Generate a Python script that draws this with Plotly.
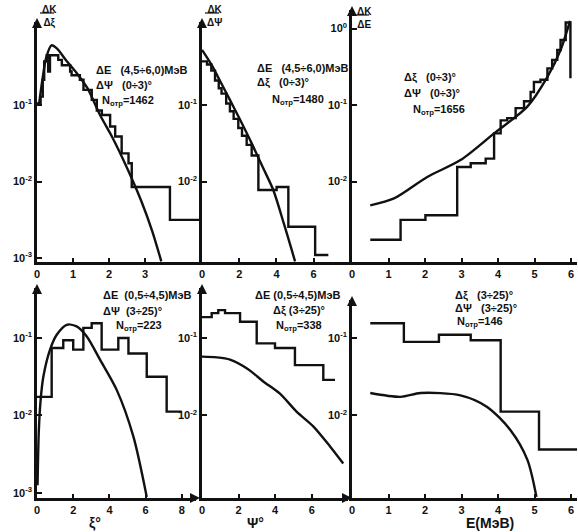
import plotly.graph_objects as go

# ---------------- DATA ----------------
# Panel 1: dK/dxi, dE (4.5-6.0) MeV, dPsi (0-3) deg
xi_edges_a = [0, 0.1, 0.16, 0.2, 0.27, 0.31, 0.36, 0.59, 0.69, 0.92, 0.96, 1.19, 1.29,
              1.52, 1.66, 1.80, 2.03, 2.17, 2.35, 2.54, 2.63, 3.69, 4.53]
xi_hist_a = [0.105, 0.129, 0.214, 0.372, 0.447, 0.275, 0.447, 0.389, 0.331, 0.275, 0.245,
             0.214, 0.158, 0.117, 0.0851, 0.0741, 0.0525, 0.0389, 0.0234, 0.0174, 0.00851, 0.00316]
xi_curve_x_a = [0.06, 0.15, 0.25, 0.40, 0.55, 0.8, 1.1, 1.4, 1.75, 2.1, 2.5, 2.9, 3.2, 3.45]
xi_curve_y_a = [0.105, 0.214, 0.407, 0.603, 0.550, 0.389, 0.263, 0.166, 0.0741, 0.0372,
                0.0151, 0.0055, 0.00224, 0.00091]

# Panel 2: dK/dPsi, dE (4.5-6.0) MeV, dxi (0-3) deg
psi_edges_a = [0, 0.27, 0.5, 0.7, 0.9, 1.05, 1.3, 1.5, 1.7, 1.95, 2.15, 2.4, 2.67, 3.03,
               4.01, 4.64, 6.08, 6.79]
psi_hist_a = [0.372, 0.339, 0.282, 0.209, 0.166, 0.141, 0.105, 0.0832, 0.0661, 0.0501,
              0.0398, 0.0302, 0.0219, 0.00776, 0.00851, 0.00257, 0.00110]
psi_curve_x_a = [0, 0.5, 1.0, 1.5, 2.0, 2.67, 3.3, 3.83, 4.4, 5.0]
psi_curve_y_a = [0.525, 0.339, 0.200, 0.117, 0.0676, 0.0316, 0.0148, 0.00776, 0.00282, 0.00091]

# Panel 3: dK/dE, dxi (0-3), dPsi (0-3) deg
e_edges_a = [0.5, 1.33, 2.01, 2.88, 3.25, 3.66, 3.89, 4.07, 4.25, 4.48, 4.71, 4.89, 4.98,
             5.16, 5.35, 5.48, 5.62, 5.71, 5.85, 5.98]
e_hist_a = [0.00174, 0.00316, 0.00363, 0.0155, 0.0174, 0.0200, 0.0427, 0.0631, 0.0676,
            0.0912, 0.112, 0.148, 0.200, 0.214, 0.302, 0.389, 0.525, 0.708, 1.20]
e_tail_a = 0.224
e_curve_x_a = [0.5, 1.15, 2.06, 2.97, 3.89, 4.8, 5.35, 5.71, 5.97]
e_curve_y_a = [0.0049, 0.00603, 0.0115, 0.0191, 0.0427, 0.0955, 0.234, 0.525, 1.26]

# Panel 4: dE (0.5-4.5) MeV, dPsi (3-25) deg
xi_edges_b = [0, 0.81, 1.45, 2.0, 2.56, 3.02, 3.57, 4.49, 5.05, 6.06, 7.16, 7.99]
xi_hist_b = [0.0174, 0.0741, 0.0933, 0.0708, 0.135, 0.155, 0.0708, 0.100, 0.0631, 0.0316, 0.0112]
xi_curve_x_b = [0.03, 0.1, 0.2, 0.35, 0.72, 1.09, 1.64, 2.19, 2.74, 3.48, 4.40, 5.32, 6.06]
xi_curve_y_b = [0.00126, 0.00631, 0.0158, 0.0316, 0.0708, 0.110, 0.148, 0.141, 0.105,
                0.0525, 0.0214, 0.00537, 0.00089]

# Panel 5: dE (0.5-4.5) MeV, dxi (3-25) deg
psi_edges_b = [0, 0.53, 0.89, 1.26, 2.08, 2.99, 3.99, 5.08, 6.63, 7.27]
psi_hist_b = [0.186, 0.209, 0.229, 0.209, 0.162, 0.0851, 0.0741, 0.0447, 0.0288]
psi_curve_x_b = [0, 0.8, 1.53, 2.5, 3.35, 4.26, 5.17, 6.08, 7.0, 7.72]
psi_curve_y_b = [0.0575, 0.0562, 0.0525, 0.0398, 0.0275, 0.0191, 0.0112, 0.00724, 0.00398, 0.0024]

# Panel 6: dxi (3-25), dPsi (3-25) deg
e_edges_b = [0.5, 1.42, 2.38, 3.25, 4.07, 5.12, 6.17]
e_hist_b = [0.155, 0.0891, 0.110, 0.0933, 0.0112, 0.00363]
e_curve_x_b = [0.5, 1.33, 1.88, 2.97, 3.70, 4.34, 4.80, 5.05]
e_curve_y_b = [0.0195, 0.0174, 0.0195, 0.0182, 0.0129, 0.00646, 0.00269, 0.00089]

labels = [
    ["ΔE   (4,5÷6,0)МэВ", "ΔΨ   (0÷3)°", "N<sub>отр</sub>=1462"],
    ["ΔE   (4,5÷6,0)МэВ", "Δξ   (0÷3)°", "N<sub>отр</sub>=1480"],
    ["Δξ   (0÷3)°", "ΔΨ   (0÷3)°", "N<sub>отр</sub>=1656"],
    ["ΔE  (0,5÷4,5)МэВ", "ΔΨ  (3÷25)°", "N<sub>отр</sub>=223"],
    ["ΔE (0,5÷4,5)МэВ", "Δξ (3÷25)°", "N<sub>отр</sub>=338"],
    ["Δξ   (3÷25)°", "ΔΨ   (3÷25)°", "N<sub>отр</sub>=146"],
]

# ---------------- FIGURE ----------------
W, H = 578, 532
def px(X): return X / W
def py(Y): return 1 - Y / H

fig = go.Figure()
BLACK = "#111111"

def add_panel(i, edges, hist, cx, cy, tail=None):
    xa = "x" if i == 1 else f"x{i}"
    ya = "y" if i == 1 else f"y{i}"
    hx = list(edges)
    hy = list(hist) + [hist[-1]]
    if tail is not None:
        hx = hx + [edges[-1]]
        hy = hy + [tail]
    fig.add_trace(go.Scatter(x=hx, y=hy, mode="lines", line=dict(shape="hv", color=BLACK, width=2.4),
                             xaxis=xa, yaxis=ya, showlegend=False, hoverinfo="skip"))
    fig.add_trace(go.Scatter(x=cx, y=cy, mode="lines", line=dict(shape="spline", smoothing=0.8, color=BLACK, width=2.4),
                             xaxis=xa, yaxis=ya, showlegend=False, hoverinfo="skip"))

add_panel(1, xi_edges_a, xi_hist_a, xi_curve_x_a, xi_curve_y_a)
add_panel(2, psi_edges_a, psi_hist_a, psi_curve_x_a, psi_curve_y_a)
add_panel(3, e_edges_a, e_hist_a, e_curve_x_a, e_curve_y_a, tail=e_tail_a)
add_panel(4, xi_edges_b, xi_hist_b, xi_curve_x_b, xi_curve_y_b)
add_panel(5, psi_edges_b, psi_hist_b, psi_curve_x_b, psi_curve_y_b)
add_panel(6, e_edges_b, e_hist_b, e_curve_x_b, e_curve_y_b)

tfont = dict(family="Liberation Sans", size=11, color=BLACK, weight="bold")

def xax(dom, rng, tv, anchor):
    return dict(domain=dom, range=rng, anchor=anchor, showline=True, linecolor=BLACK, linewidth=2.5,
                ticks="inside", ticklen=4, tickwidth=1.5, tickcolor=BLACK, tickvals=tv,
                ticktext=[str(v) for v in tv], tickfont=tfont, showgrid=False, zeroline=False,
                automargin=False)

def yax(dom, rng, tv, anchor):
    txt = ["10<sup>0</sup>" if v == 1 else f"10<sup>-{len(str(v).split('.')[1])}</sup>" for v in tv]
    return dict(type="log", domain=dom, range=rng, anchor=anchor, showline=True, linecolor=BLACK,
                linewidth=2.5, ticks="inside", ticklen=5, tickwidth=1.5, tickcolor=BLACK,
                tickvals=tv, ticktext=txt, tickfont=tfont, showgrid=False, zeroline=False,
                automargin=False)

ytop = [py(262), py(22)]
ybot = [py(498), py(288)]
fig.update_layout(
    template="none",
    width=W, height=H, margin=dict(l=0, r=0, t=0, b=0, pad=0), autosize=False,
    paper_bgcolor="white", plot_bgcolor="rgba(0,0,0,0)",
    xaxis=xax([px(37), px(202)], [0, 4.58], [0, 1, 2, 3], "y"),
    yaxis=yax(ytop, [-3.05, 0.085], [0.1, 0.01, 0.001], "x"),
    xaxis2=xax([px(202), px(352)], [0, 8.06], [0, 2, 4, 6], "y2"),
    yaxis2=yax(ytop, [-3.05, 0.085], [0.1, 0.01], "x2"),
    xaxis3=xax([px(352), px(577)], [0, 6.16], [0, 1, 2, 3, 4, 5, 6], "y3"),
    yaxis3=yax([py(262), py(10)], [-3.05, 0.242], [1, 0.1, 0.01], "x3"),
    xaxis4=xax([px(37), px(196)], [0, 8.78], [0, 2, 4, 6, 8], "y4"),
    yaxis4=yax(ybot, [-3.065, -0.355], [0.1, 0.01, 0.001], "x4"),
    xaxis5=xax([px(202), px(348)], [0, 7.98], [0, 2, 4, 6], "y5"),
    yaxis5=yax(ybot, [-3.065, -0.355], [0.1, 0.01], "x5"),
    xaxis6=xax([px(352), px(577)], [0, 6.16], [0, 1, 2, 3, 4, 5, 6], "y6"),
    yaxis6=yax([py(498), py(300)], [-3.065, -0.51], [0.1, 0.01], "x6"),
)

ann = []
afont = dict(family="Liberation Sans", size=11, color=BLACK, weight="bold")
text_pos = [
    [(94, 70), (94, 85), (100, 101)],
    [(255, 68), (255, 83), (270, 100)],
    [(402, 77), (402, 93), (411, 110)],
    [(101, 295), (101, 311), (114, 326)],
    [(253, 295), (271, 310), (274, 326)],
    [(453, 295), (453, 308), (455, 322)],
]
for lab, pos in zip(labels, text_pos):
    for t, (X, Y) in zip(lab, pos):
        ann.append(dict(x=px(X), y=py(Y), xref="paper", yref="paper", text=t, showarrow=False,
                        xanchor="left", yanchor="middle", font=afont))

# y-axis titles (fractions) at top of upper panels
for X, sym in [(40, "Δξ"), (205, "ΔΨ"), (355, "ΔE")]:
    Ytop = 4 if X == 355 else 2
    ann.append(dict(x=px(X), y=py(Ytop), xref="paper", yref="paper", text="ΔK<br>" + sym,
                    showarrow=False, xanchor="left", yanchor="top",
                    font=dict(family="Liberation Sans", size=10, color=BLACK, weight="bold")))

# x-axis titles on the lower row
for X, t in [(95, "ξ°"), (255, "Ψ°"), (490, "E(МэВ)")]:
    ann.append(dict(x=px(X), y=py(523), xref="paper", yref="paper", text=t, showarrow=False,
                    xanchor="center", yanchor="middle",
                    font=dict(family="Liberation Sans", size=14, color=BLACK, weight="bold")))

# axis arrowheads
for X, Y in [(37, 22), (202, 22), (352, 10), (37, 288), (202, 288), (352, 300)]:
    ann.append(dict(x=px(X), y=py(Y - 4), xref="paper", yref="paper", text="", showarrow=True,
                    ax=0, ay=10, arrowhead=2, arrowsize=1, arrowwidth=2, arrowcolor=BLACK))
for X, Y in [(196, 498), (348, 498)]:
    ann.append(dict(x=px(X + 4), y=py(Y), xref="paper", yref="paper", text="", showarrow=True,
                    ax=-10, ay=0, arrowhead=2, arrowsize=1, arrowwidth=2, arrowcolor=BLACK))

# fraction bars for y titles
shapes = []
for X in [40, 205, 355]:
    Yb = 13 if X != 355 else 15
    shapes.append(dict(type="line", xref="paper", yref="paper", x0=px(X), x1=px(X + 14),
                       y0=py(Yb), y1=py(Yb), line=dict(color=BLACK, width=1.2)))

fig.update_layout(annotations=ann, shapes=shapes)
fig.write_html("out.html", config={"displayModeBar": False},
               post_script="document.body.style.margin='0px';document.body.style.padding='0px';"
                           "document.body.style.overflow='hidden';")
